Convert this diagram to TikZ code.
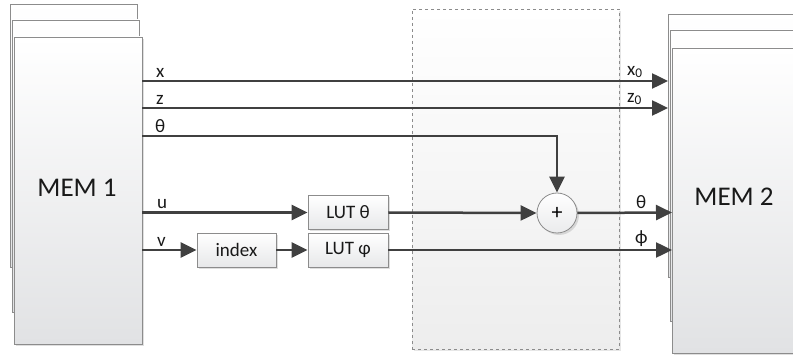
\documentclass[tikz,border=0pt]{standalone}
\usepackage{fontspec}
\setmainfont{Carlito}
\usetikzlibrary{arrows.meta,shadows,calc}
\definecolor{ln}{HTML}{404040}
\definecolor{bd}{HTML}{8C8C8C}
\definecolor{bt}{HTML}{E1E2E4}
\tikzset{
  membox/.style={draw=bd, line width=0.9pt, shading=axis, top color=white, bottom color=bt, inner sep=0pt},
  smallbox/.style={draw=bd, line width=0.8pt, shading=axis, top color=white, bottom color=bt!80, inner sep=0pt, minimum width=80pt, minimum height=34pt, font=\fontsize{19}{21}\selectfont, text=black!90, drop shadow={opacity=0.25, shadow xshift=2pt, shadow yshift=-2pt}},
  conn/.style={draw=ln, line width=2.5pt},
  arr/.style={conn, -{Triangle[length=16pt,width=15pt]}},
  lbl/.style={font=\fontsize{19}{21}\selectfont, text=black!90, inner sep=0pt, anchor=south west},
  memtxt/.style={font=\fontsize{27}{30}\selectfont, text=black!90},
}
\begin{document}
\begin{tikzpicture}[x=1pt,y=-1pt]
\useasboundingbox (0,0) rectangle (793,358);
\clip (0,0) rectangle (793,358);
% dashed box
\node[draw=black!45, dashed, line width=0.8pt, shading=axis, top color=white, bottom color=black!7, minimum width=207pt, minimum height=340pt, inner sep=0pt, drop shadow={opacity=0.2, shadow xshift=2pt, shadow yshift=-2pt}] (dash) at (515.5,179) {};
% MEM1 stack
\node[membox, minimum width=127pt, minimum height=263pt] (m1c) at (73.5,135.5) {};
\node[membox, minimum width=127pt, minimum height=292pt] (m1b) at (75.5,166) {};
\node[membox, minimum width=128pt, minimum height=307pt, drop shadow={opacity=0.25, shadow xshift=2pt, shadow yshift=-2pt}] (m1) at (78,190.5) {};
\node[memtxt] (m1t) at (77,188) {MEM 1};
% MEM2 stack
\node[membox, minimum width=140pt, minimum height=263pt] (m2c) at (738,145.5) {};
\node[membox, minimum width=140pt, minimum height=291pt] (m2b) at (740,175.5) {};
\node[membox, minimum width=140pt, minimum height=305pt, drop shadow={opacity=0.25, shadow xshift=2pt, shadow yshift=-2pt}] (m2) at (742,200.5) {};
\node[memtxt] (m2t) at (734,197) {MEM 2};
% small boxes
\node[smallbox] (luttheta) at (348,212.5) {LUT θ};
\node[smallbox] (lutphi) at (348,250) {LUT φ};
\node[smallbox, minimum width=79pt] (index) at (236.5,250) {index};
\node[circle, draw=bd, line width=0.8pt, shading=axis, top color=white, bottom color=bt!70, minimum size=40pt, inner sep=0pt, font=\fontsize{22}{24}\selectfont, drop shadow={opacity=0.25, shadow xshift=2pt, shadow yshift=-2pt}] (plus) at (557,213) {+};
% coordinates
\coordinate (ox) at (142,81);
\coordinate (oz) at (142,108);
\coordinate (ot) at (142,136);
\coordinate (ou) at (142,212.5);
\coordinate (ov) at (142,250);
\coordinate (ix) at (668,81);
\coordinate (iz) at (668,108);
\coordinate (it) at (672,212.5);
\coordinate (ip) at (672,250);
% connectors
\draw[arr] (ox) -- (ix);
\draw[arr] (oz) -- (iz);
\draw[arr] (ot) -| (plus.north);
\draw[arr] (ou) -- (luttheta.west);
\draw[arr] (luttheta.east) -- (plus.west);
\draw[arr] (plus.east) -- (it);
\draw[arr] (ov) -- (index.west);
\draw[arr] (index.east) -- (lutphi.west);
\draw[arr] (lutphi.east) -- (ip);
% labels
\node[lbl] (lx) at (156,78) {x};
\node[lbl] (lz) at (156,105) {z};
\node[lbl] (lt) at (155,133) {θ};
\node[lbl] (lu) at (157,209) {u};
\node[lbl] (lv) at (157,247) {v};
\node[lbl] (lx0) at (627,78) {x\textsubscript{0}};
\node[lbl] (lz0) at (627,105) {z\textsubscript{0}};
\node[lbl] (lt2) at (636,209) {θ};
\node[lbl] (lp2) at (635,247) {ϕ};
\end{tikzpicture}
\end{document}
